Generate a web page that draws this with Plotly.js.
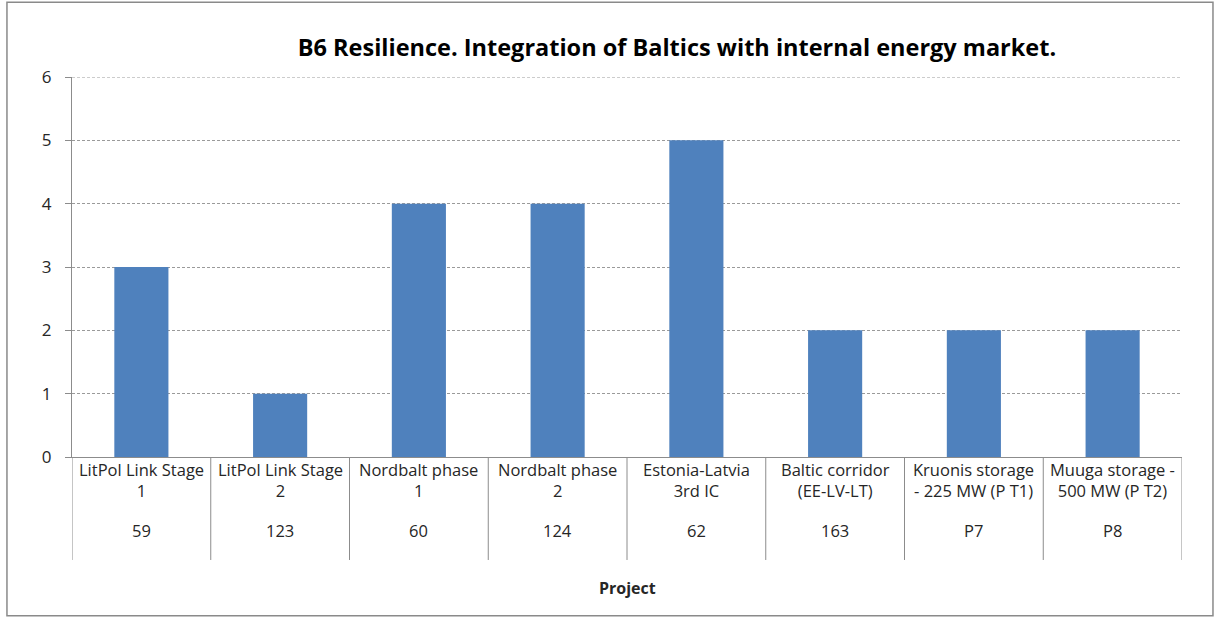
<!DOCTYPE html>
<html>
<head>
<meta charset="utf-8">
<script src="https://cdn.plot.ly/plotly-3.0.1.min.js"></script>
<style>html,body{margin:0;padding:0;background:#fff;}#chart{width:1216px;height:619px;}</style>
</head>
<body>
<div id="chart"></div>
<script>
// Data
const projectNames = [
  "LitPol Link Stage<br>1",
  "LitPol Link Stage<br>2",
  "Nordbalt phase<br>1",
  "Nordbalt phase<br>2",
  "Estonia-Latvia<br>3rd IC",
  "Baltic corridor<br>(EE-LV-LT)",
  "Kruonis storage<br>- 225 MW (P T1)",
  "Muuga storage -<br>500 MW (P T2)"
];
const projectIds = ["59", "123", "60", "124", "62", "163", "P7", "P8"];
const scores = [3, 1, 4, 4, 5, 2, 2, 2];
const yTicks = [0, 1, 2, 3, 4, 5, 6];
const yMax = 6;

const FONT = "Open Sans, Noto Sans, sans-serif";
const TXT = "#262626";
const AXC = "#8c8c8c";

const trace = {
  type: "bar",
  x: projectIds,
  y: scores,
  marker: {color: "#4F81BD"},
  hoverinfo: "x+y"
};

const annotations = [];
projectIds.forEach((id, i) => {
  annotations.push({
    xref: "x", yref: "paper", x: i, y: -0.0605,
    text: projectNames[i], showarrow: false,
    xanchor: "center", yanchor: "middle",
    font: {family: FONT, size: 16.5, color: TXT}
  });
  annotations.push({
    xref: "x", yref: "paper", x: i, y: -0.1947,
    text: id, showarrow: false,
    xanchor: "center", yanchor: "middle",
    font: {family: FONT, size: 16.5, color: TXT}
  });
});
annotations.push({
  xref: "paper", yref: "paper", x: 0.5, y: -0.3447,
  text: "<b>Project</b>", showarrow: false,
  xanchor: "center", yanchor: "middle",
  font: {family: FONT, size: 16, color: TXT}
});

const shapes = [];
for (let i = 0; i <= projectIds.length; i++) {
  shapes.push({
    type: "line", xref: "x", yref: "paper",
    x0: i - 0.5, x1: i - 0.5, y0: 0, y1: -0.271,
    line: {color: AXC, width: 1}
  });
}
// top gridline (Plotly omits the gridline at the range edge)
shapes.push({
  type: "line", xref: "paper", yref: "y",
  x0: 0, x1: 1, y0: yMax, y1: yMax,
  line: {color: "#9a9a9a", width: 1, dash: "3px,2px"}, layer: "below"
});
shapes.push({
  type: "rect", xref: "paper", yref: "paper",
  x0: -0.0586, x1: 1.0279, y0: -0.418, y1: 1.197,
  line: {color: "#8a8a8a", width: 1.5}, layer: "below"
});

const layout = {
  width: 1216, height: 619,
  margin: {l: 72, r: 34, t: 77, b: 162},
  paper_bgcolor: "#ffffff",
  plot_bgcolor: "#ffffff",
  showlegend: false,
  bargap: 0.61,
  title: {
    text: "<b>B6 Resilience. Integration of Baltics with internal energy market.</b>",
    xref: "paper", x: 0.545, xanchor: "center",
    yref: "container", y: 0.9225, yanchor: "middle",
    font: {family: FONT, size: 23.5, color: "#000000"}
  },
  xaxis: {
    type: "category",
    range: [-0.5, projectIds.length - 0.5],
    showticklabels: false,
    showgrid: false,
    showline: true, linecolor: AXC, linewidth: 1,
    ticks: "", zeroline: false, fixedrange: true
  },
  yaxis: {
    range: [0, yMax],
    tickvals: yTicks,
    ticktext: yTicks.map(String),
    showgrid: true, gridcolor: "#9a9a9a", gridwidth: 1, griddash: "3px,2px",
    showline: true, linecolor: AXC, linewidth: 1,
    ticks: "outside", ticklen: 6, tickcolor: AXC,
    ticklabelstandoff: 10,
    zeroline: false,
    tickfont: {family: FONT, size: 17, color: TXT},
    fixedrange: true
  },
  annotations: annotations,
  shapes: shapes
};

Plotly.newPlot("chart", [trace], layout, {displayModeBar: false, staticPlot: true});
</script>
</body>
</html>
